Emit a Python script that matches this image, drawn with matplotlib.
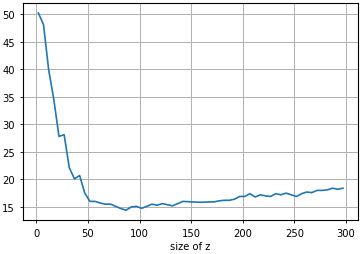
import matplotlib
matplotlib.use("Agg")
import matplotlib.pyplot as plt

z_sizes = list(range(2, 298, 5))
values = [50.2, 48.1, 39.9, 34.5, 27.8, 28.1, 22.1, 20.1, 20.7, 17.5,
          16.0, 16.0, 15.7, 15.5, 15.5, 15.1, 14.7, 14.4, 15.0, 15.1,
          14.75, 15.1, 15.5, 15.3, 15.6, 15.4, 15.2, 15.6, 16.0, 15.95,
          15.9, 15.85, 15.85, 15.9, 15.9, 16.1, 16.2, 16.2, 16.4, 16.9,
          16.9, 17.4, 16.8, 17.2, 17.0, 16.9, 17.4, 17.2, 17.5, 17.2,
          16.9, 17.4, 17.7, 17.6, 18.0, 18.0, 18.1, 18.4, 18.2, 18.4]

plt.rcParams["font.size"] = 7.2
fig = plt.figure(figsize=(3.61, 2.55), dpi=100)
ax = fig.add_axes([0.064, 0.133, 0.928, 0.851])
ax.plot(z_sizes, values, color="#1f77b4", linewidth=1.2)
ax.grid(True, linewidth=0.7)
ax.set_yticks([15, 20, 25, 30, 35, 40, 45, 50])
ax.tick_params(length=2.5, width=0.6)
for s in ax.spines.values():
    s.set_linewidth(0.8)
ax.set_xlabel("size of z", labelpad=2)
fig.savefig("out.png", dpi=100)
